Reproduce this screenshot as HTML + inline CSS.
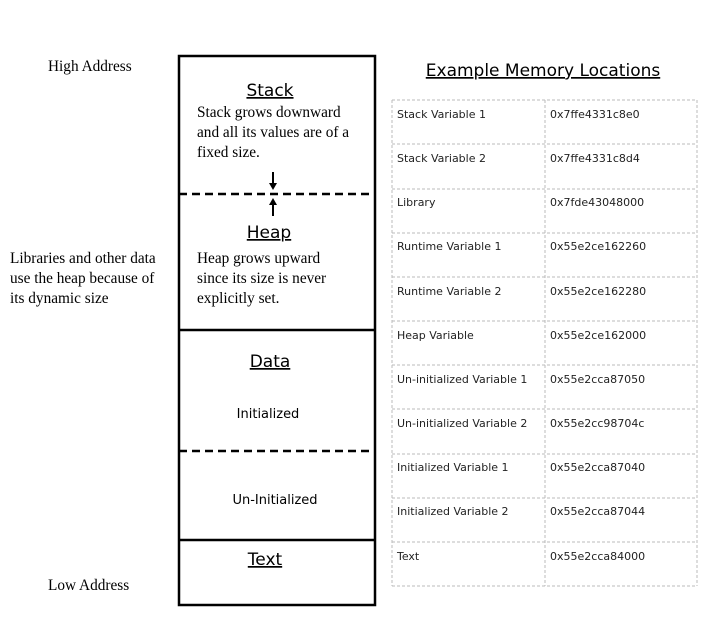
<!DOCTYPE html>
<html><head><meta charset="utf-8"><style>body{margin:0;background:#fff}svg{display:block}</style></head><body>
<svg width="708" height="620" xmlns="http://www.w3.org/2000/svg">
<g font-family="Liberation Serif, serif" font-size="15.3" fill="#000">
<text x="48" y="71">High Address</text>
<text x="48" y="590">Low Address</text>
<text x="10" y="263">Libraries and other data</text>
<text x="10" y="283">use the heap because of</text>
<text x="10" y="303">its dynamic size</text>
<text x="197" y="117">Stack grows downward</text>
<text x="197" y="137">and all its values are of a</text>
<text x="197" y="157">fixed size.</text>
<text x="197" y="263">Heap grows upward</text>
<text x="197" y="283">since its size is never</text>
<text x="197" y="303">explicitly set.</text>
</g>
<rect x="179" y="56" width="196" height="549" fill="none" stroke="#000" stroke-width="2.5"/>
<line x1="179" y1="194" x2="375" y2="194" stroke="#000" stroke-width="2.5" stroke-dasharray="8,5"/>
<line x1="179" y1="451" x2="375" y2="451" stroke="#000" stroke-width="2.5" stroke-dasharray="8,5"/>
<line x1="179" y1="330" x2="375" y2="330" stroke="#000" stroke-width="2.5"/>
<line x1="179" y1="540" x2="375" y2="540" stroke="#000" stroke-width="2.5"/>
<line x1="273" y1="172" x2="273" y2="184" stroke="#000" stroke-width="2"/>
<polygon points="269,183 277,183 273,190" fill="#000"/>
<line x1="273" y1="204" x2="273" y2="216" stroke="#000" stroke-width="2"/>
<polygon points="269,205 277,205 273,198" fill="#000"/>
<g font-family="DejaVu Sans, Liberation Sans, sans-serif" fill="#000" text-decoration="underline" text-anchor="middle" font-size="17">
<text x="270" y="96">Stack</text>
<text x="269" y="238">Heap</text>
<text x="270" y="367">Data</text>
<text x="265" y="565">Text</text>
<text x="543" y="76" font-size="17">Example Memory Locations</text>
</g>
<g font-family="DejaVu Sans, Liberation Sans, sans-serif" font-size="13" text-anchor="middle">
<text x="268" y="418">Initialized</text>
<text x="275" y="504">Un-Initialized</text>
</g>
<g stroke="#bbb" stroke-dasharray="3,2" fill="none">
<line x1="392" y1="100" x2="392" y2="586"/><line x1="545" y1="100" x2="545" y2="586"/><line x1="697" y1="100" x2="697" y2="586"/>
<line x1="392" y1="100" x2="697" y2="100"/><line x1="392" y1="144" x2="697" y2="144"/><line x1="392" y1="189" x2="697" y2="189"/><line x1="392" y1="233" x2="697" y2="233"/><line x1="392" y1="277" x2="697" y2="277"/><line x1="392" y1="321" x2="697" y2="321"/><line x1="392" y1="365" x2="697" y2="365"/><line x1="392" y1="409" x2="697" y2="409"/><line x1="392" y1="454" x2="697" y2="454"/><line x1="392" y1="498" x2="697" y2="498"/><line x1="392" y1="542" x2="697" y2="542"/><line x1="392" y1="586" x2="697" y2="586"/>
</g>
<g font-family="DejaVu Sans, Liberation Sans, sans-serif" font-size="11" fill="#222">
<text x="397" y="118">Stack Variable 1</text><text x="550" y="118">0x7ffe4331c8e0</text>
<text x="397" y="162">Stack Variable 2</text><text x="550" y="162">0x7ffe4331c8d4</text>
<text x="397" y="206">Library</text><text x="550" y="206">0x7fde43048000</text>
<text x="397" y="250">Runtime Variable 1</text><text x="550" y="250">0x55e2ce162260</text>
<text x="397" y="295">Runtime Variable 2</text><text x="550" y="295">0x55e2ce162280</text>
<text x="397" y="339">Heap Variable</text><text x="550" y="339">0x55e2ce162000</text>
<text x="397" y="383">Un-initialized Variable 1</text><text x="550" y="383">0x55e2cca87050</text>
<text x="397" y="427">Un-initialized Variable 2</text><text x="550" y="427">0x55e2cc98704c</text>
<text x="397" y="471">Initialized Variable 1</text><text x="550" y="471">0x55e2cca87040</text>
<text x="397" y="515">Initialized Variable 2</text><text x="550" y="515">0x55e2cca87044</text>
<text x="397" y="560">Text</text><text x="550" y="560">0x55e2cca84000</text>
</g>
</svg>
</body></html>
